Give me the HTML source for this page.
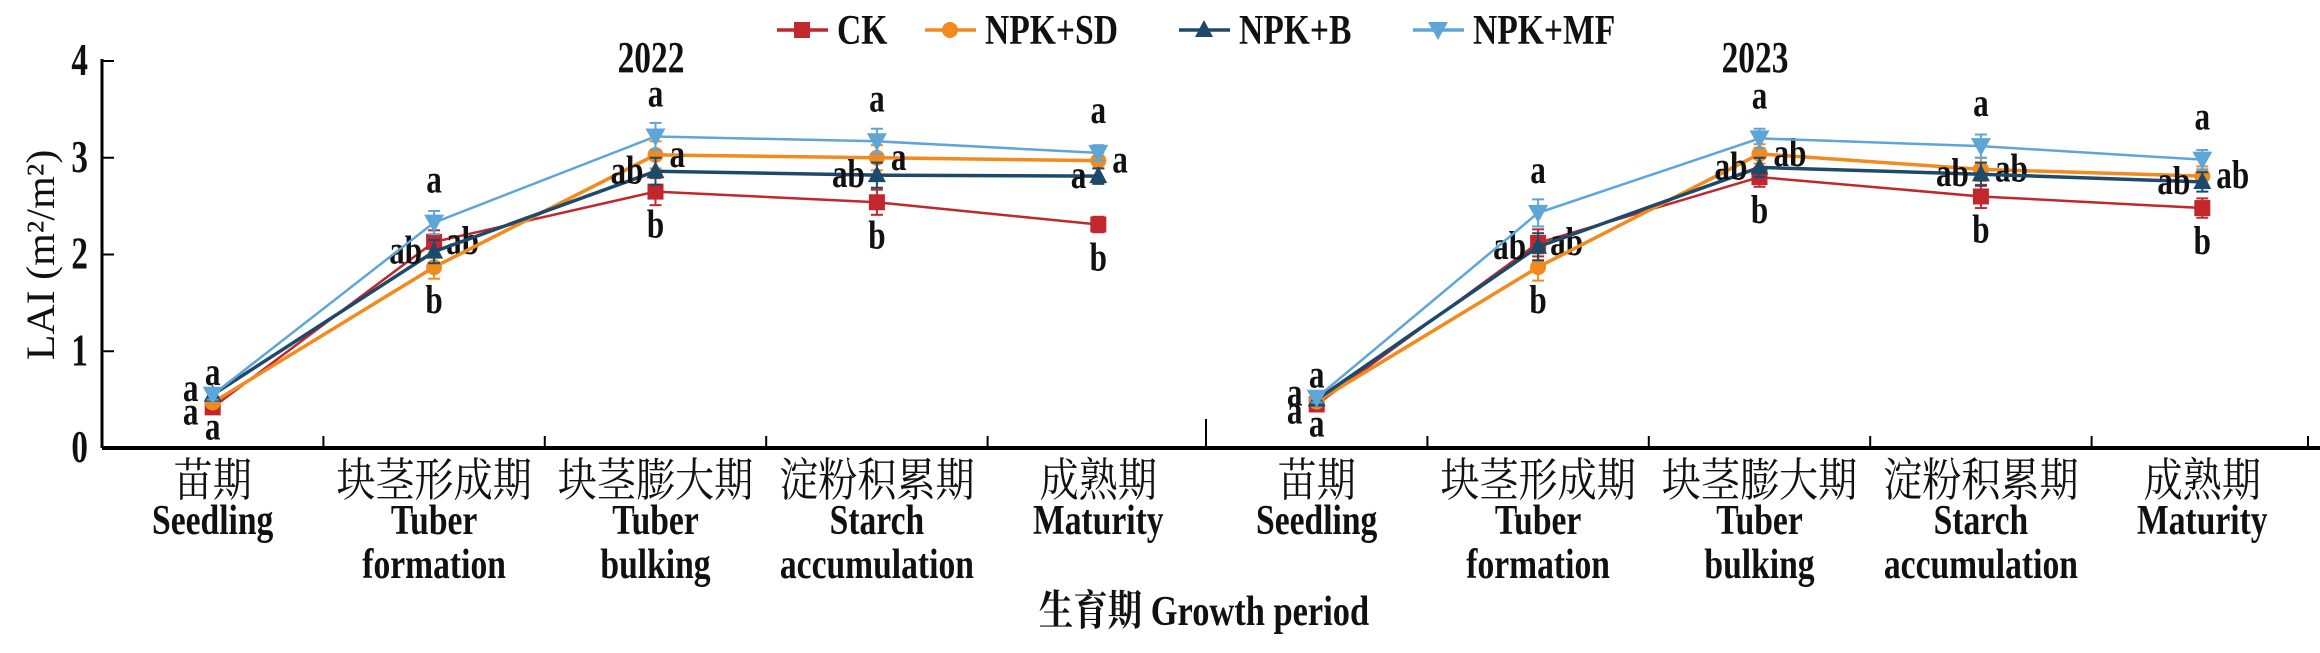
<!DOCTYPE html>
<html><head><meta charset="utf-8"><style>
body{margin:0;background:#fff}
svg text{font-family:"Liberation Serif","Noto Serif CJK SC",serif;fill:#111}
</style></head><body>
<svg id="chart" width="2320" height="648" viewBox="0 0 2320 648" xmlns="http://www.w3.org/2000/svg"></svg>
<script>
const categoriesCN=["苗期","块茎形成期","块茎膨大期","淀粉积累期","成熟期"];
const categoriesEN=[["Seedling"],["Tuber","formation"],["Tuber","bulking"],["Starch","accumulation"],["Maturity"]];
const years=["2022","2023"];
const seriesNames=["CK","NPK+SD","NPK+B","NPK+MF"];
const ck2022=[0.42,2.13,2.65,2.54,2.31];
const sd2022=[0.47,1.87,3.03,3.0,2.97];
const b2022=[0.55,2.03,2.86,2.82,2.81];
const mf2022=[0.55,2.33,3.22,3.17,3.05];
const ck2023=[0.45,2.12,2.8,2.6,2.48];
const sd2023=[0.48,1.87,3.04,2.88,2.81];
const b2023=[0.5,2.08,2.9,2.83,2.75];
const mf2023=[0.52,2.43,3.2,3.12,2.98];
const err2022=[0.05,0.12,0.14,0.13,0.08];
const err2023=[0.05,0.14,0.1,0.12,0.1];
const yTicks=[0,1,2,3,4];
const lt2022=[["a","ab","b","b","b"],["a","b","a","a","a"],["a","ab","ab","ab","a"],["a","a","a","a","a"]];
const lt2023=[["a","ab","b","b","b"],["a","b","ab","ab","ab"],["a","ab","ab","ab","ab"],["a","a","a","a","a"]];

const colors=["#c1272d","#f28a1e","#1d4a6b","#5ea5d8"];
const NS="http://www.w3.org/2000/svg";
const svg=document.getElementById("chart");
function el(t,a,p){const e=document.createElementNS(NS,t);for(const k in a)e.setAttribute(k,a[k]);(p||svg).appendChild(e);return e;}
function T(x,y,anchor,size,str,parent,weight,sx){
  const t=el("text",{x:0,y:0,"text-anchor":anchor,"font-size":size,transform:`translate(${x},${y}) scale(${sx||0.8},1)`},parent);
  t.style.fontWeight=weight||"bold";
  t.textContent=str;return t;
}
const X0=102,BAND=221.4,Y0=448,YPU=96.75;
const panelX=[102,1206];
function xPos(p,i){return panelX[p]+BAND*(i+0.5);}
function yPos(v){return Y0-v*YPU;}

let ax=el("g",{});
el("line",{x1:X0,y1:yPos(4)-2,x2:X0,y2:Y0,stroke:"#000","stroke-width":3},ax);
el("line",{x1:X0,y1:Y0,x2:2320,y2:Y0,stroke:"#000","stroke-width":4},ax);
yTicks.forEach(v=>{
  el("line",{x1:X0,y1:yPos(v),x2:X0+12,y2:yPos(v),stroke:"#000","stroke-width":2},ax);
  const t=T(X0-14,yPos(v)+14,"end",46,String(v),ax,"bold",0.72);
  
});
el("line",{x1:1206,y1:419,x2:1206,y2:Y0,stroke:"#000","stroke-width":2},ax);
for(let p=0;p<2;p++)for(let i=1;i<5;i++){const x=panelX[p]+BAND*i;el("line",{x1:x,y1:436,x2:x,y2:Y0,stroke:"#000","stroke-width":2},ax);}
el("line",{x1:2308,y1:436,x2:2308,y2:Y0,stroke:"#000","stroke-width":2},ax);

for(let p=0;p<2;p++)categoriesCN.forEach((c,i)=>{
  const x=xPos(p,i);
  const t=T(x,496,"middle",46,c,null,"normal",0.85);
  
  categoriesEN[i].forEach((w,k)=>{const e=T(x,534+k*44,"middle",42,w,null,"bold",0.8);
  });
});
let xt=T(1204,625,"middle",42,"生育期 Growth period",null,"bold",0.82);

let yt=el("text",{x:0,y:0,transform:"translate(54,255) rotate(-90) scale(1,0.95)","text-anchor":"middle","font-size":42});yt.textContent="LAI (m²/m²)";
yt.style.fontWeight="normal";

years.forEach((y,p)=>{const t=T(p?1755:651,72,"middle",44,y,null,"bold",0.76);
});

function marker(k,x,y,g){
  const c=colors[k];
  if(k===0)el("rect",{x:x-8,y:y-8,width:16,height:16,fill:c},g);
  else if(k===1)el("circle",{cx:x,cy:y,r:8,fill:c},g);
  else if(k===2)el("polygon",{points:`${x},${y-10} ${x+9},${y+7} ${x-9},${y+7}`,fill:c},g);
  else el("polygon",{points:`${x-10},${y-8} ${x+10},${y-8} ${x},${y+10}`,fill:c},g);
}
const data=[[ck2022,sd2022,b2022,mf2022],[ck2023,sd2023,b2023,mf2023]];
const errs=[err2022,err2023];
const letters=[lt2022,lt2023];
function labelPos(k,i,x,y){
  if(i===0){const o=[[0,20],[-22,10],[-22,-6],[0,-22]][k];return [x+o[0],y+o[1]+12,"middle"];}
  if(k===0)return i===1?[x+12,y+12,"start"]:[x,y+46,"middle"];
  if(k===1)return i===1?[x,y+46,"middle"]:[x+14,y+12,"start"];
  if(k===2)return [x-12,y+12,"end"];
  return [x,y-30,"middle"];
}
for(let p=0;p<2;p++)for(let k=0;k<4;k++){
  const g=el("g",{});
  const vals=data[p][k];
  el("polyline",{points:vals.map((v,i)=>xPos(p,i)+","+yPos(v)).join(" "),fill:"none",stroke:colors[k],"stroke-width":k===1||k===2?3.5:2.5},g);
  vals.forEach((v,i)=>{
    const x=xPos(p,i),e=errs[p][i]*YPU;
    el("line",{x1:x,y1:yPos(v)-e,x2:x,y2:yPos(v)+e,stroke:colors[k],"stroke-width":2},g);
    el("line",{x1:x-6,y1:yPos(v)-e,x2:x+6,y2:yPos(v)-e,stroke:colors[k],"stroke-width":2},g);
    el("line",{x1:x-6,y1:yPos(v)+e,x2:x+6,y2:yPos(v)+e,stroke:colors[k],"stroke-width":2},g);
    marker(k,x,yPos(v),g);
    const lp=labelPos(k,i,x,yPos(v));
    const t=T(lp[0],lp[1],lp[2],40,letters[p][k][i],g,"bold",0.78);
    
  });
}
const lx=[777,925,1179,1413];
seriesNames.forEach((n,k)=>{
  const g=el("g",{});
  el("line",{x1:lx[k],y1:30,x2:lx[k]+51,y2:30,stroke:colors[k],"stroke-width":3.5},g);
  marker(k,lx[k]+25,30,g);
  T(lx[k]+60,44,"start",42,n,g,"bold",0.8);
});
</script>
</body></html>
